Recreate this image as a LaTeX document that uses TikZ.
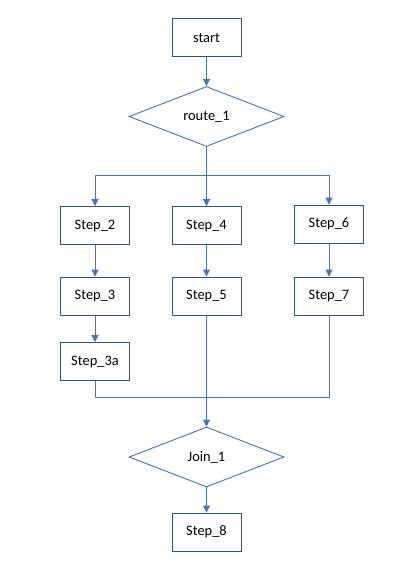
\documentclass[tikz,border=0pt]{standalone}
\usepackage{fontspec}
\setmainfont{Carlito}
\usetikzlibrary{shapes.geometric,arrows.meta}
\definecolor{boxc}{HTML}{2F528F}
\definecolor{linec}{HTML}{4472C4}
\begin{document}
\begin{tikzpicture}[x=1bp,y=-1bp,
  stepbox/.style={draw=boxc,line width=0.9bp,minimum width=69bp,minimum height=38bp,inner sep=0pt,font=\fontsize{14.5}{16}\selectfont},
  decision/.style={diamond,draw=linec,line width=0.9bp,aspect=2.6,minimum width=155bp,minimum height=60bp,inner sep=0pt,font=\fontsize{14.5}{16}\selectfont},
  conn/.style={draw=linec,line width=0.9bp},
  arr/.style={conn,-{Triangle[width=7bp,length=7bp]}}]
\useasboundingbox (0,0) rectangle (419,566);
\node[stepbox] (start) at (206.5,37.5) {start};
\node[decision] (route) at (206.5,116.5) {route\_1};
\node[stepbox] (s2) at (95,225.5) {Step\_2};
\node[stepbox] (s4) at (206.5,225.5) {Step\_4};
\node[stepbox] (s6) at (329,224) {Step\_6};
\node[stepbox] (s3) at (95,296) {Step\_3};
\node[stepbox] (s5) at (206.5,296) {Step\_5};
\node[stepbox] (s7) at (329,296) {Step\_7};
\node[stepbox] (s3a) at (95,361.5) {Step\_3a};
\node[decision] (join) at (206.5,457) {Join\_1};
\node[stepbox] (s8) at (206.5,532) {Step\_8};
\coordinate (br) at (206.5,175.5);
\coordinate (jn) at (206.5,397);
\draw[arr] (start) -- (route);
\draw[conn] (route.south) -- (br);
\draw[arr] (br) -| (s2.north);
\draw[arr] (br) -| (s6.north);
\draw[arr] (route.south) -- (s4.north);
\draw[arr] (s2) -- (s3);
\draw[arr] (s3) -- (s3a);
\draw[arr] (s4) -- (s5);
\draw[arr] (s6) -- (s7);
\draw[conn] (s3a.south) |- (jn);
\draw[conn] (s7.south) |- (jn);
\draw[arr] (s5.south) -- (join.north);
\draw[arr] (join) -- (s8);
\end{tikzpicture}
\end{document}
